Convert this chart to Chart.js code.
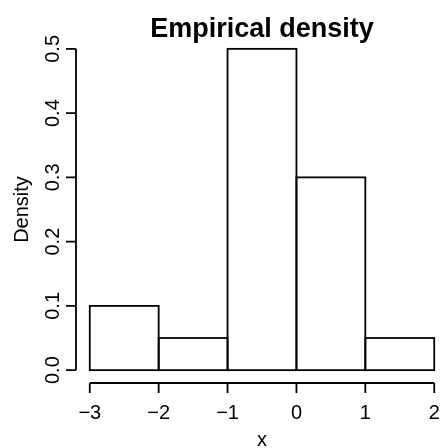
<!DOCTYPE html>
<html>
<head>
<meta charset="utf-8">
<script src="https://cdn.jsdelivr.net/npm/chart.js"></script>
<style>
  html, body { margin: 0; padding: 0; overflow: hidden; background: #fff; }
</style>
</head>
<body>
<canvas id="hist" width="448" height="448"></canvas>
<script>
// histogram bins and densities
const binStarts = [-3, -2, -1, 0, 1];
const binEnds = [-2, -1, 0, 1, 2];
const density = [0.1, 0.05, 0.5, 0.3, 0.05];
const xTicks = [-3, -2, -1, 0, 1, 2];
const yTicks = [0, 0.1, 0.2, 0.3, 0.4, 0.5];
const xTickLabels = ['\u22123', '\u22122', '\u22121', '0', '1', '2'];
const yTickLabels = ['0.0', '0.1', '0.2', '0.3', '0.4', '0.5'];

const FONT = '"Liberation Sans", Arial, sans-serif';

// R-style axes, outlines and labels
const rAxes = {
  id: 'rAxes',
  afterDatasetsDraw(chart) {
    const ctx = chart.ctx;
    const xs = chart.scales.x, ys = chart.scales.y;
    const area = chart.chartArea;
    ctx.save();
    ctx.strokeStyle = '#000';
    ctx.lineWidth = 1.8;

    // bar outlines
    chart.getDatasetMeta(0).data.forEach(bar => {
      const p = bar.getProps(['x', 'y', 'base', 'width'], true);
      ctx.strokeRect(p.x - p.width / 2, p.y, p.width, p.base - p.y);
    });

    // x axis
    const xa = area.bottom;
    ctx.beginPath();
    ctx.moveTo(xs.getPixelForValue(xTicks[0]), xa);
    ctx.lineTo(xs.getPixelForValue(xTicks[xTicks.length - 1]), xa);
    xTicks.forEach(v => {
      const px = xs.getPixelForValue(v);
      ctx.moveTo(px, xa);
      ctx.lineTo(px, xa + 10);
    });
    ctx.stroke();

    // y axis
    const ya = area.left;
    ctx.beginPath();
    ctx.moveTo(ya, ys.getPixelForValue(yTicks[0]));
    ctx.lineTo(ya, ys.getPixelForValue(yTicks[yTicks.length - 1]));
    yTicks.forEach(v => {
      const py = ys.getPixelForValue(v);
      ctx.moveTo(ya, py);
      ctx.lineTo(ya - 10, py);
    });
    ctx.stroke();

    ctx.fillStyle = '#000';
    ctx.textAlign = 'center';
    ctx.textBaseline = 'alphabetic';

    // tick labels
    ctx.font = '20px ' + FONT;
    xTicks.forEach((v, i) => {
      ctx.fillText(xTickLabels[i], xs.getPixelForValue(v), 419);
    });
    yTicks.forEach((v, i) => {
      ctx.save();
      ctx.translate(59, ys.getPixelForValue(v));
      ctx.rotate(-Math.PI / 2);
      ctx.fillText(yTickLabels[i], 0, 0);
      ctx.restore();
    });

    // axis titles
    ctx.font = '20px ' + FONT;
    ctx.fillText('x', (area.left + area.right) / 2, 446);
    ctx.save();
    ctx.translate(28, (area.top + area.bottom) / 2);
    ctx.rotate(-Math.PI / 2);
    ctx.fillText('Density', 0, 0);
    ctx.restore();

    // main title
    ctx.font = 'bold 27px ' + FONT;
    ctx.fillText('Empirical density', (area.left + area.right) / 2, 37);
    ctx.restore();
  }
};

new Chart(document.getElementById('hist'), {
  type: 'bar',
  data: {
    datasets: [{
      data: density.map((d, i) => ({ x: (binStarts[i] + binEnds[i]) / 2, y: d })),
      backgroundColor: '#ffffff',
      borderWidth: 0,
      barPercentage: 1,
      categoryPercentage: 1
    }]
  },
  options: {
    responsive: false,
    animation: false,
    events: [],
    layout: { padding: { left: 76, top: 36, right: 0, bottom: 65 } },
    plugins: { legend: { display: false }, tooltip: { enabled: false }, title: { display: false } },
    scales: {
      x: {
        type: 'linear', display: false, min: -3.2, max: 2.2, offset: false,
        afterBuildTicks: s => { s.ticks = xTicks.map(v => ({ value: v })); }
      },
      y: { type: 'linear', display: false, min: -0.02, max: 0.52 }
    }
  },
  plugins: [rAxes]
});
</script>
</body>
</html>
